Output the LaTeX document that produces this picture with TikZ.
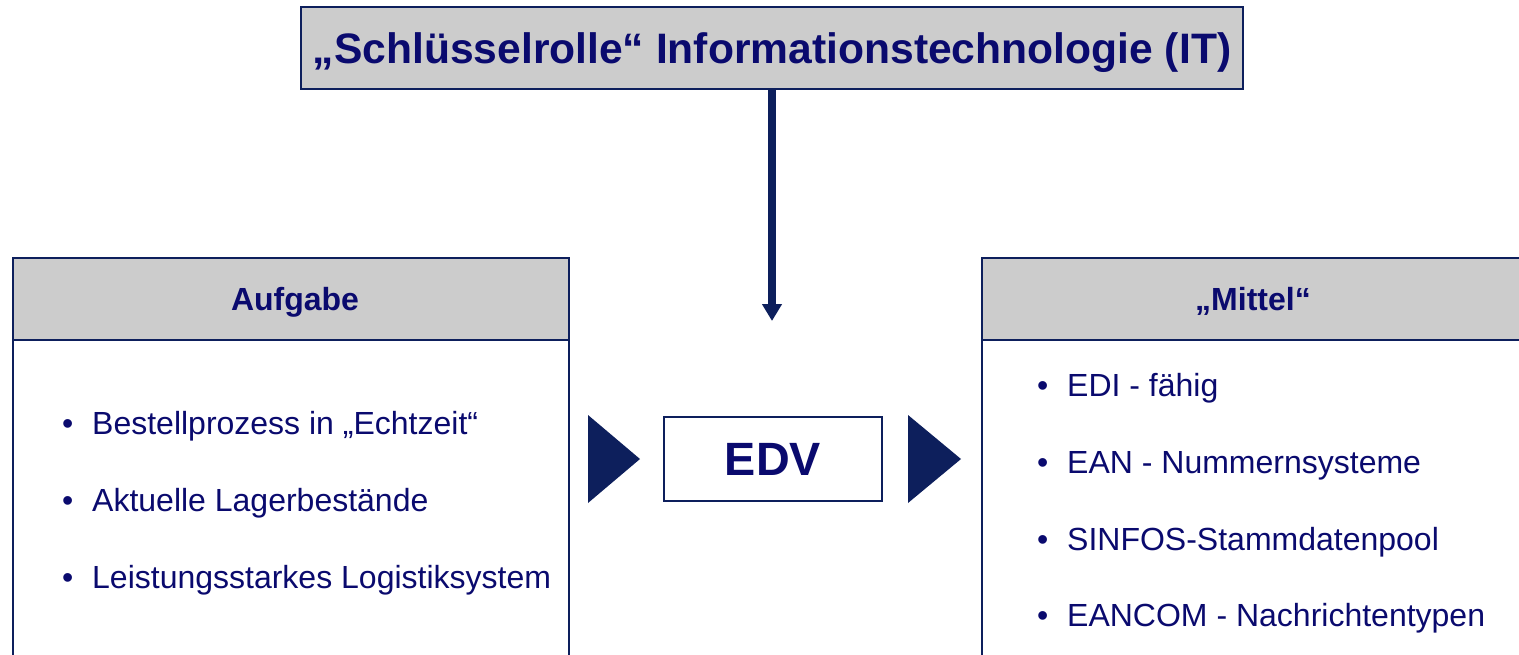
\documentclass[tikz,border=0pt]{standalone}
\usepackage{fontspec}
\setmainfont{Liberation Sans}
\usetikzlibrary{arrows.meta}
\definecolor{navy}{HTML}{0D1F5C}
\definecolor{ink}{HTML}{0A0A6E}
\definecolor{headgray}{HTML}{CCCCCC}
\tikzset{
  frame/.style={draw=navy, line width=1.6pt},
  titlebox/.style={frame, fill=headgray, inner sep=0pt, text=ink,
    font=\fontsize{42.6}{48}\selectfont\bfseries, text height=30.5pt, text depth=0pt},
  headbox/.style={frame, fill=headgray, inner sep=0pt, text=ink,
    font=\fontsize{32}{36}\selectfont\bfseries, text height=23pt, text depth=0pt},
  headtext/.style={headbox, draw=none, fill=none},
  edvbox/.style={frame, fill=white, inner sep=0pt, text=ink,
    font=\fontsize{46.7}{52}\selectfont\bfseries, text height=33.4pt, text depth=0pt},
  item/.style={anchor=base west, inner sep=0pt, text=ink,
    font=\fontsize{32}{36}\selectfont},
  pointer/.style={fill=navy, draw=none},
  downarrow/.style={draw=navy, line width=7.5pt, -{Triangle[width=19pt 0, length=17pt 0]}},
}
\newcommand{\bul}[1]{\makebox[30pt][l]{\textbullet}#1}
\begin{document}
\begin{tikzpicture}[x=1pt, y=-1pt]
  \useasboundingbox (0,0) rectangle (1519,654);
  \clip (0,0) rectangle (1519,654);

  % heading box
  \node[titlebox, minimum width=942pt, minimum height=82pt] (title) at (772,48)
    {„Schlüsselrolle“ Informationstechnologie (IT)};

  % left column: task
  \draw[frame] (13,340) -- (13,670) (569,340) -- (569,670);
  \node[headbox, minimum width=556pt, minimum height=82pt] (aufgabe) at (291,299) {};
  \node[headtext] (aufgabetext) at (295,299) {Aufgabe};
  \node[item] (a1) at (62,434) {\bul{Bestellprozess in „Echtzeit“}};
  \node[item] (a2) at (62,511) {\bul{Aktuelle Lagerbestände}};
  \node[item] (a3) at (62,588) {\bul{Leistungsstarkes Logistiksystem}};

  % right column: means
  \draw[frame] (982,340) -- (982,670);
  \node[headbox, minimum width=560pt, minimum height=82pt] (mittel) at (1262,299) {};
  \node[headtext] (mitteltext) at (1253,299) {„Mittel“};
  \node[item] (m1) at (1037,396) {\bul{EDI - fähig}};
  \node[item] (m2) at (1037,473) {\bul{EAN - Nummernsysteme}};
  \node[item] (m3) at (1037,550) {\bul{SINFOS-Stammdatenpool}};
  \node[item] (m4) at (1037,626) {\bul{EANCOM - Nachrichtentypen}};

  % centre
  \node[edvbox, minimum width=218pt, minimum height=84pt] (edv) at (773,459) {EDV};
  \coordinate (tip) at (772,321);
  \draw[downarrow] (title.south) -- (tip);

  \fill[pointer] (588,415) -- (640,459) -- (588,503) -- cycle;
  \fill[pointer] (908,415) -- (961,459) -- (908,503) -- cycle;
\end{tikzpicture}
\end{document}
